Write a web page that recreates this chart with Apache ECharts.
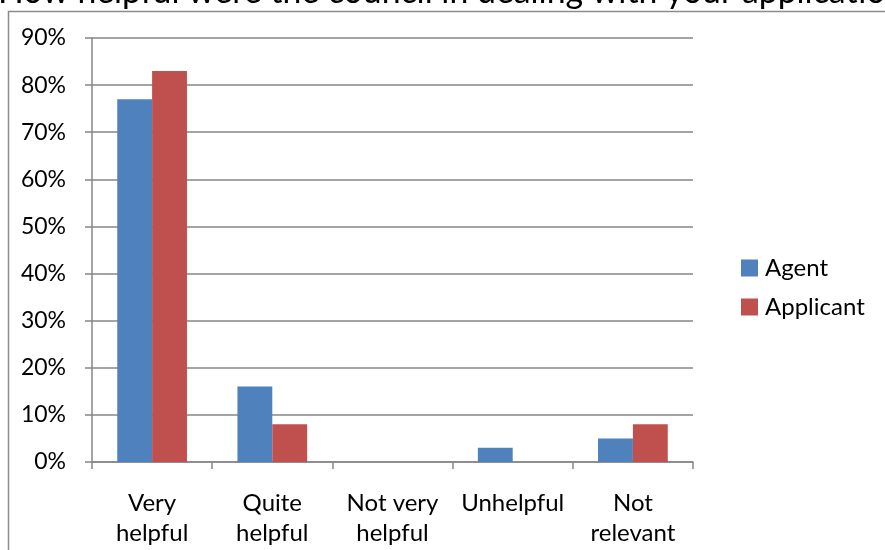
<!DOCTYPE html>
<html>
<head>
<meta charset="utf-8">
<script src="https://cdn.jsdelivr.net/npm/echarts@6/dist/echarts.min.js"></script>
<style>
  html, body { margin: 0; padding: 0; background: #fff; }
  #chart { width: 885px; height: 550px; }
</style>
</head>
<body>
<div id="chart"></div>
<script>
// Survey answers: how helpful the council was, by respondent type (percent)
const categories = ['Very\nhelpful', 'Quite\nhelpful', 'Not very\nhelpful', 'Unhelpful', 'Not\nrelevant'];
const agentValues = [77, 16, 0, 3, 5];
const applicantValues = [83, 8, 0, 0, 8];
const seriesNames = ['Agent', 'Applicant'];
const titleText = 'How helpful were the council in dealing with your application?';

const font = 'Lato, Carlito, Calibri, sans-serif';
const gridGray = '#868686';

const chart = echarts.init(document.getElementById('chart'), null, { renderer: 'canvas' });

chart.setOption({
  animation: false,
  backgroundColor: '#fff',
  textStyle: { fontFamily: font },
  graphic: [
    {
      type: 'polyline',
      shape: { points: [[8.5, 560], [8.5, 11.5], [900, 11.5]] },
      style: { stroke: '#8c8c8c', lineWidth: 1.5, fill: null },
      silent: true
    },
    {
      type: 'text',
      x: -2,
      y: -8,
      style: { text: titleText, font: '33.8px ' + font, fill: '#000', verticalAlign: 'middle', align: 'left' },
      silent: true
    }
  ],
  grid: { left: 92, right: 192, top: 38, bottom: 88, containLabel: false },
  legend: {
    orient: 'vertical',
    left: 741,
    top: 256,
    padding: 0,
    itemWidth: 17,
    itemHeight: 17,
    itemGap: 15,
    icon: 'rect',
    textStyle: { fontSize: 24, fontFamily: font, color: '#000', padding: [0, 0, 0, 2] },
    data: seriesNames
  },
  xAxis: {
    type: 'category',
    data: categories,
    axisLine: { lineStyle: { color: gridGray, width: 1.5 } },
    axisTick: { show: true, length: 7, alignWithLabel: false, lineStyle: { color: gridGray, width: 1.5 } },
    axisLabel: { fontSize: 24, color: '#000', lineHeight: 30, margin: 26, interval: 0, fontFamily: font }
  },
  yAxis: {
    type: 'value',
    min: 0,
    max: 90,
    interval: 10,
    axisLine: { show: true, lineStyle: { color: gridGray, width: 1.5 } },
    axisTick: { show: true, length: 7, lineStyle: { color: gridGray, width: 1.5 } },
    splitLine: { lineStyle: { color: gridGray, width: 1.5 } },
    axisLabel: { fontSize: 23, color: '#000', margin: 26, formatter: '{value}%', fontFamily: font }
  },
  series: [
    {
      name: seriesNames[0],
      type: 'bar',
      data: agentValues,
      itemStyle: { color: '#4F81BD' },
      barGap: '0%',
      barCategoryGap: '42%'
    },
    {
      name: seriesNames[1],
      type: 'bar',
      data: applicantValues,
      itemStyle: { color: '#C0504D' },
      barGap: '0%',
      barCategoryGap: '42%'
    }
  ]
});
</script>
</body>
</html>
